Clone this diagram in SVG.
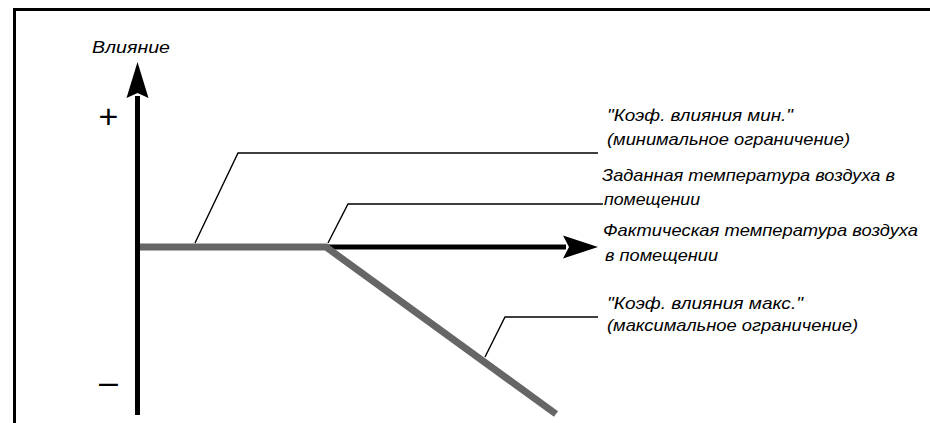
<svg xmlns="http://www.w3.org/2000/svg" width="930" height="423" viewBox="0 0 930 423">
<style>
.t{font-family:"Liberation Sans",Arial,sans-serif;font-style:italic;font-size:16.5px;fill:#000}
.sym{font-family:"Liberation Sans",Arial,sans-serif;font-size:34px;fill:#000}
.lead{fill:none;stroke:#000;stroke-width:1.4}
.axis{stroke:#000;stroke-width:5;fill:none}
.gray{stroke:#666;stroke-width:7;fill:none}
</style>
<rect x="0" y="0" width="930" height="423" fill="#fff"/>
<path d="M14.5,423 V9.5 H930" fill="none" stroke="#000" stroke-width="3"/>
<g id="axes">
<line class="axis" x1="137.5" y1="96" x2="137.5" y2="415"/>
<polygon points="137.5,62 148.5,98 137.5,93 126.5,98" fill="#000"/>
<line class="axis" x1="137" y1="247" x2="566" y2="247"/>
<polygon points="598,247 563,235.5 569,247 563,258.5" fill="#000"/>
<text class="t" x="92" y="53" textLength="78" lengthAdjust="spacingAndGlyphs">Влияние</text>
<text class="sym" x="108.5" y="128" text-anchor="middle">+</text>
<text class="sym" x="108.5" y="393" text-anchor="middle" fill="#333">–</text>
</g>
<g id="curve">
<path class="gray" d="M140,247 H326 L556,414"/>
</g>
<g id="connectors">
<polyline class="lead" points="195,243 238,153 598,153"/>
<polyline class="lead" points="328,243 348,204 603,204"/>
<polyline class="lead" points="485,357 505,317 598,317"/>
</g>
<g id="label-min">
<text class="t" x="607" y="121" textLength="186" lengthAdjust="spacingAndGlyphs">"Коэф. влияния мин."</text>
<text class="t" x="607" y="145" textLength="243" lengthAdjust="spacingAndGlyphs">(минимальное ограничение)</text>
</g>
<g id="label-set">
<text class="t" x="602" y="181" textLength="293" lengthAdjust="spacingAndGlyphs">Заданная температура воздуха в</text>
<text class="t" x="604" y="205" textLength="96" lengthAdjust="spacingAndGlyphs">помещении</text>
</g>
<g id="label-actual">
<text class="t" x="603" y="236" textLength="315" lengthAdjust="spacingAndGlyphs">Фактическая температура воздуха</text>
<text class="t" x="605" y="261" textLength="113" lengthAdjust="spacingAndGlyphs">в помещении</text>
</g>
<g id="label-max">
<text class="t" x="607" y="309" textLength="196" lengthAdjust="spacingAndGlyphs">"Коэф. влияния макс."</text>
<text class="t" x="607" y="331" textLength="251" lengthAdjust="spacingAndGlyphs">(максимальное ограничение)</text>
</g>
</svg>
